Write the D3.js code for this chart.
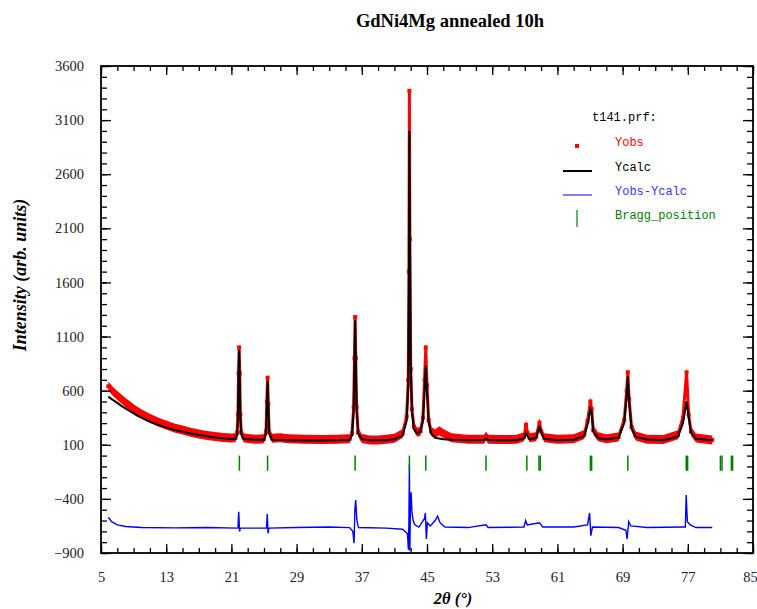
<!DOCTYPE html>
<html><head><meta charset="utf-8">
<script src="https://cdn.jsdelivr.net/npm/d3@7"></script>
<style>body{margin:0;background:#fff} svg{display:block}</style>
</head><body>
<svg id="c" width="757" height="609"></svg>
<script>
// ---- data ----
const twoTheta = [5.9,6.5,7,7.5,8,8.5,9,9.5,10,11,
  12,13,14,15,16,17,18,19,20,21,
  21.5,21.7,21.8,21.88,21.95,22.02,22.1,22.2,22.5,23,
  24,25,25.25,25.35,25.44,25.53,25.63,26,27,28,
  30,32,34,35.5,35.8,36,36.1,36.18,36.26,36.36,
  36.55,37,38,39,40,41,42,42.5,42.7,42.78,
  42.84,42.9,43,43.15,43.4,43.8,44.2,44.5,44.7,44.85,
  45,45.2,45.5,46,46.5,47,48,50,52,52.25,
  52.5,54,56,56.9,57.15,57.35,57.6,58.4,58.8,59,
  59.4,61,63,64.3,64.7,65.05,65.2,65.4,66,67,
  68.5,69.2,69.5,69.64,69.8,70.1,70.6,72,74,75.8,
  76.4,76.85,77.1,77.4,78,80];
const yObs = [640,590,555,522,490,462,432,407,385,345,
  310,282,256,236,216,200,186,176,168,162,
  165,210,380,760,1000,760,380,215,165,158,
  152,155,225,500,720,480,215,160,165,155,
  152,148,150,155,205,450,900,1280,900,450,
  215,158,145,145,150,160,205,360,700,1700,
  3370,2000,800,430,265,215,225,350,700,1000,
  650,330,225,200,230,205,165,152,152,180,
  152,148,150,175,285,205,165,175,305,225,
  165,150,155,195,320,500,430,235,175,155,
  172,330,600,770,520,265,182,152,148,192,
  350,770,380,222,162,145];
const yCalc = [545,512,487,460,436,412,390,368,348,313,
  284,260,238,220,204,190,178,168,160,154,
  156,195,360,730,975,730,360,198,156,150,
  147,146,205,470,690,460,205,146,143,142,
  140,140,141,146,188,420,860,1250,880,440,
  205,152,142,141,142,150,185,320,650,1500,
  3000,2100,850,410,245,205,222,320,600,830,
  600,310,205,165,157,152,146,142,143,162,
  143,141,142,158,205,178,152,162,275,212,
  156,142,146,182,290,430,400,222,162,149,
  166,300,560,730,500,252,172,148,143,176,
  300,500,360,212,156,141];
const diffTheta = [5.9,6.3,7,8,10,14,18,21.8,21.9,22.0,
  22.1,25.3,25.4,25.5,25.6,29,33,35.5,35.9,36.05,
  36.15,36.25,36.4,36.6,40,42.0,42.6,42.72,42.78,42.84,
  42.9,42.97,43.05,43.15,43.3,43.5,44.0,44.7,44.8,44.92,
  45.05,45.4,46.0,46.3,46.6,47.2,50,52.25,52.5,56.9,
  57.1,57.3,58.8,59.2,63,64.7,64.95,65.1,65.3,68.5,
  69.4,69.55,69.75,70.0,72,76.4,76.7,76.8,76.95,77.3,
  78,80];
const diffVal = [-570,-610,-640,-655,-665,-668,-665,-670,-520,-700,
  -670,-670,-540,-720,-670,-665,-660,-665,-700,-810,
  -500,-410,-600,-665,-670,-680,-720,-870,-600,-80,
  -880,-420,-340,-520,-600,-640,-660,-580,-530,-770,
  -620,-650,-600,-560,-620,-660,-665,-640,-665,-660,
  -600,-640,-620,-660,-660,-640,-530,-740,-660,-665,
  -690,-770,-610,-650,-665,-660,-660,-365,-610,-640,
  -665,-665];
const braggPos = [21.98,25.44,36.18,42.84,44.85,52.24,57.25,58.74,58.9,65.05,65.2,69.64,76.81,76.98,81.0,81.2,82.35,82.5];
const braggTop = 0, braggBottom = -140;
const xMajorTicks = [5,13,21,29,37,45,53,61,69,77,85];
const yMajorTicks = [-900,-400,100,600,1100,1600,2100,2600,3100,3600];
const titleText = "GdNi4Mg annealed 10h";
const legendItems = ["Yobs","Ycalc","Yobs-Ycalc","Bragg_position"];

// ---- layout ----
const L = 101, R = 753, T = 66, B = 553;
const svg = d3.select("#c");
const x = d3.scaleLinear().domain([5,85]).range([L,R]);
const y = d3.scaleLinear().domain([-900,3600]).range([B,T]);

svg.append("defs").append("clipPath").attr("id","clip")
  .append("rect").attr("x",L).attr("y",T).attr("width",R-L).attr("height",B-T);

const plot = svg.append("g").attr("clip-path","url(#clip)");
const pts = twoTheta.map((t,i)=>({t, o:yObs[i], c:yCalc[i]}));

// observed: vertical scatter band + line + dots
const spread = 4.5; // px, visual thickness of the dense dot cloud
plot.append("path").datum(pts)
  .attr("d", d3.area().x(d=>x(d.t)).y0(d=>y(d.o)+spread).y1(d=>y(d.o)-spread))
  .attr("fill","#ff0000");
plot.append("path").datum(pts)
  .attr("d", d3.line().x(d=>x(d.t)).y(d=>y(d.o)))
  .attr("fill","none").attr("stroke","#ff0000").attr("stroke-width",3)
  .attr("stroke-linejoin","round");
plot.selectAll("rect.obs").data(pts).enter().append("rect")
  .attr("class","obs")
  .attr("x",d=>x(d.t)-2).attr("y",d=>y(d.o)-2)
  .attr("width",4).attr("height",4).attr("fill","#ff0000");

// calculated
plot.append("path").datum(pts)
  .attr("d", d3.line().x(d=>x(d.t)).y(d=>y(d.c)))
  .attr("fill","none").attr("stroke","#000").attr("stroke-width",2);

// difference
const dpts = diffTheta.map((t,i)=>({t, v:diffVal[i]}));
plot.append("path").datum(dpts)
  .attr("d", d3.line().x(d=>x(d.t)).y(d=>y(d.v)))
  .attr("fill","none").attr("stroke","#0000ff").attr("stroke-width",1.4);

// Bragg positions
plot.selectAll("line.bragg").data(braggPos).enter().append("line")
  .attr("x1",d=>x(d)).attr("x2",d=>x(d))
  .attr("y1",y(braggTop)).attr("y2",y(braggBottom))
  .attr("stroke","#008000").attr("stroke-width",1.5);

// ---- axes ----
const xMinor = d3.range(5,85.01,2);
const yMinor = d3.range(-900,3600.01,100);
const fontTick = "'Liberation Serif', 'Times New Roman', serif";

function styleAxis(g){
  g.select(".domain").remove();
  g.selectAll("line").attr("stroke","#000").attr("stroke-width",1.3);
  g.selectAll("text").attr("font-family",fontTick).attr("font-size",14.5).attr("fill","#222");
}
// bottom
svg.append("g").attr("transform",`translate(0,${B})`)
  .call(d3.axisBottom(x).tickValues(xMinor).tickSize(-5).tickFormat("")).call(styleAxis);
const bx = svg.append("g").attr("transform",`translate(0,${B})`)
  .call(d3.axisBottom(x).tickValues(xMajorTicks).tickSize(-9).tickPadding(19).tickFormat(d3.format("d"))).call(styleAxis);
bx.selectAll("text").filter(d=>d===85).attr("dx",-3);
// top
svg.append("g").attr("transform",`translate(0,${T})`)
  .call(d3.axisTop(x).tickValues(xMinor).tickSize(-5).tickFormat("")).call(styleAxis);
svg.append("g").attr("transform",`translate(0,${T})`)
  .call(d3.axisTop(x).tickValues(xMajorTicks).tickSize(-9).tickFormat("")).call(styleAxis);
// left
svg.append("g").attr("transform",`translate(${L},0)`)
  .call(d3.axisLeft(y).tickValues(yMinor).tickSize(-6).tickFormat("")).call(styleAxis);
svg.append("g").attr("transform",`translate(${L},0)`)
  .call(d3.axisLeft(y).tickValues(yMajorTicks).tickSize(-10).tickPadding(17).tickFormat(d3.format("d"))).call(styleAxis);
// right
svg.append("g").attr("transform",`translate(${R},0)`)
  .call(d3.axisRight(y).tickValues(yMinor).tickSize(-6).tickFormat("")).call(styleAxis);
svg.append("g").attr("transform",`translate(${R},0)`)
  .call(d3.axisRight(y).tickValues(yMajorTicks).tickSize(-10).tickFormat("")).call(styleAxis);

// frame
svg.append("rect").attr("x",L).attr("y",T).attr("width",R-L).attr("height",B-T)
  .attr("fill","none").attr("stroke","#000").attr("stroke-width",1.8);

// ---- titles ----
svg.append("text").attr("x",450).attr("y",27).attr("text-anchor","middle")
  .attr("font-family",fontTick).attr("font-weight","bold").attr("font-size",18.5)
  .text(titleText);
svg.append("text").attr("transform","translate(26,275) rotate(-90)")
  .attr("text-anchor","middle").attr("font-family",fontTick)
  .attr("font-weight","bold").attr("font-style","italic").attr("font-size",18)
  .text("Intensity (arb. units)");
svg.append("text").attr("x",453).attr("y",604).attr("text-anchor","middle")
  .attr("font-family",fontTick).attr("font-weight","bold").attr("font-style","italic")
  .attr("font-size",16.5).text("2θ (°)");

// ---- legend ----
const mono = "'Liberation Mono', 'Courier New', monospace";
const lg = svg.append("g");
lg.append("text").attr("x",592).attr("y",121).attr("font-family",mono).attr("font-size",12)
  .attr("fill","#000").text("t141.prf:");
const legColors = ["#ff0000","#000000","#3333ff","#008000"];
const legY = [146,171,195,219];
legendItems.forEach((name,i)=>{
  lg.append("text").attr("x",615).attr("y",legY[i]).attr("font-family",mono).attr("font-size",12)
    .attr("fill",legColors[i]).text(name);
});
lg.append("rect").attr("x",575).attr("y",144).attr("width",4).attr("height",4).attr("fill","#ff0000");
lg.append("line").attr("x1",563).attr("x2",592).attr("y1",171).attr("y2",171).attr("stroke","#000").attr("stroke-width",2);
lg.append("line").attr("x1",563).attr("x2",592).attr("y1",195).attr("y2",195).attr("stroke","#0000ff").attr("stroke-width",1);
lg.append("line").attr("x1",577).attr("x2",577).attr("y1",210).attr("y2",227).attr("stroke","#008000").attr("stroke-width",1.2);
</script>
</body></html>
